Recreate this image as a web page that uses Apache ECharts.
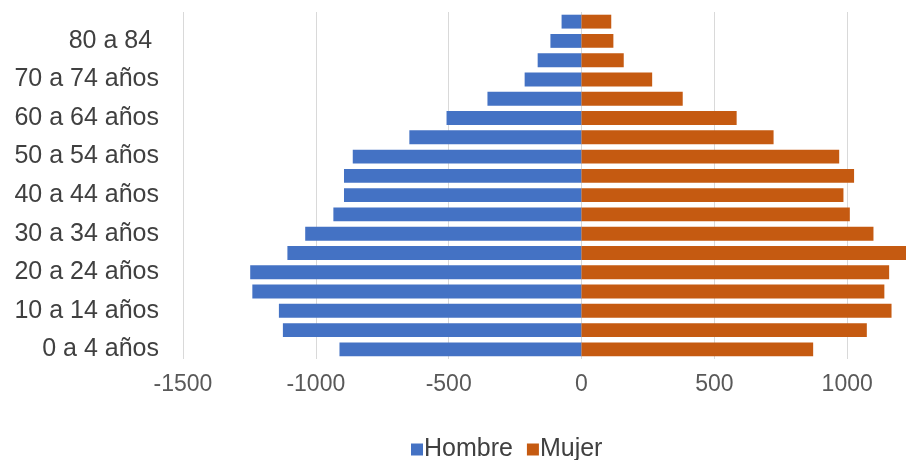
<!DOCTYPE html>
<html>
<head>
<meta charset="utf-8">
<script src="https://cdn.jsdelivr.net/npm/echarts@6/dist/echarts.min.js"></script>
<style>
  html, body { margin: 0; padding: 0; background: #fff; }
  #chart { width: 906px; height: 460px; }
</style>
</head>
<body>
<div id="chart"></div>
<script>
// grupos de edad (de abajo hacia arriba)
const edades = [
  "0 a 4 años", "5 a 9 años", "10 a 14 años", "15 a 19 años", "20 a 24 años",
  "25 a 29 años", "30 a 34 años", "35 a 39 años", "40 a 44 años", "45 a 49 años",
  "50 a 54 años", "55 a 59 años", "60 a 64 años", "65 a 69 años", "70 a 74 años",
  "75 a 79 años", "80 a 84 ", "85 y más"
];
// hombres en negativo para la pirámide
const hombre = [
  -911, -1124, -1139, -1239, -1247, -1107, -1040, -934, -894, -894,
  -861, -648, -508, -354, -214, -165, -117, -75
];
const mujer = [
  872, 1074, 1167, 1140, 1158, 1230, 1099, 1010, 986, 1026,
  970, 723, 584, 381, 266, 159, 120, 112
];

let chartDom = document.getElementById("chart");
let myChart = echarts.init(chartDom);

let option = {
  animation: false,
  textStyle: { fontFamily: "Liberation Sans, Arial, sans-serif" },
  legend: {
    data: ["Hombre", "Mujer"],
    left: 406,
    top: 432,
    itemWidth: 12,
    itemHeight: 12,
    itemGap: 14,
    icon: "rect",
    textStyle: { fontSize: 25, color: "#404040", padding: [0, 0, 0, -4] },
  },
  grid: {
    left: 183,
    top: 12,
    width: 797, // el eje llega a 1500 fuera del recorte
    height: 347,
    containLabel: false,
    outerBoundsMode: "none",
  },
  xAxis: {
    type: "value",
    min: -1500,
    max: 1500,
    interval: 500,
    axisLine: { show: false },
    axisTick: { show: false },
    axisLabel: {
      fontSize: 23,
      color: "#595959",
      margin: 14,
      formatter: (v) => String(v),
    },
    splitLine: { lineStyle: { color: "#d9d9d9", width: 1 } },
  },
  yAxis: {
    type: "category",
    data: edades,
    axisLine: { show: false },
    axisTick: { show: false },
    axisLabel: { interval: 1, fontSize: 25, color: "#404040", margin: 24 },
  },
  series: [
    {
      name: "Hombre",
      type: "bar",
      stack: "total",
      barCategoryGap: "28%",
      itemStyle: { color: "#4472C4" },
      data: hombre,
    },
    {
      name: "Mujer",
      type: "bar",
      stack: "total",
      barCategoryGap: "28%",
      itemStyle: { color: "#C55A11" },
      data: mujer,
    },
  ],
};
myChart.setOption(option);

window.onresize = function () {
  myChart.resize();
};
</script>
</body>
</html>
